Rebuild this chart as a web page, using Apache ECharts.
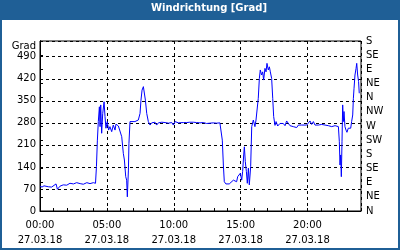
<!DOCTYPE html>
<html>
<head>
<meta charset="utf-8">
<script src="https://cdn.jsdelivr.net/npm/echarts@6/dist/echarts.min.js"></script>
<style>html,body{margin:0;padding:0;background:#fff}#c{width:400px;height:250px}</style>
</head>
<body>
<div id="c"></div>
<script>
// Time of day in hours (27.03.18)
const hours = [
  0.00,0.15,0.30,0.43,0.62,0.87,1.00,1.20,1.30,1.37,1.50,1.74,2.00,2.24,2.50,2.74,3.00,3.24,3.50,3.74,3.99,4.10,4.15,
  4.22,4.29,4.36,4.44,4.49,4.54,4.61,4.69,4.79,4.86,4.93,5.03,5.13,5.23,5.36,5.48,5.61,5.68,5.86,5.98,
  6.11,6.23,6.31,6.41,6.48,6.53,6.61,6.65,6.73,6.85,7.10,7.35,7.48,7.55,7.63,7.73,7.80,7.88,7.98,8.10,8.23,
  8.35,8.47,8.60,8.72,8.85,8.97,9.10,9.22,9.35,9.47,9.60,9.72,9.85,9.97,10.10,10.22,10.35,10.47,10.72,10.97,
  11.20,11.46,11.70,11.96,12.20,12.46,12.71,12.95,13.20,13.45,13.53,
  13.63,13.71,13.78,13.90,14.00,14.15,14.28,14.46,14.60,14.70,14.78,14.88,14.98,15.08,15.15,15.23,15.28,15.35,
  15.43,15.50,15.58,15.65,15.75,15.83,15.95,16.07,16.15,16.25,16.32,16.40,16.47,16.57,16.65,16.72,16.82,16.90,
  16.97,17.07,17.15,17.22,17.32,17.40,17.47,17.57,17.65,17.77,17.94,18.07,18.19,18.32,18.44,18.57,18.69,18.82,
  18.94,19.07,19.19,19.32,19.44,19.56,19.69,19.94,20.06,20.19,20.31,20.44,20.56,20.69,20.81,21.06,21.31,21.56,
  21.81,22.06,22.18,22.31,22.38,22.43,22.48,22.53,22.58,22.63,22.68,22.73,22.80,22.88,22.95,23.05,23.13,23.23,
  23.30,23.38,23.43,23.48,23.55,23.63,23.68,23.75,23.82,23.87
];
// Wind direction in degrees
const direction = [
  79,76,80,82,77,76,72,86,69,63,79,83,82,88,86,90,87,85,90,87,90,86,88,
  141,225,284,331,268,337,247,310,347,300,263,284,257,268,252,273,257,276,270,268,
  236,183,162,109,98,45,130,215,284,284,284,289,310,352,384,395,395,352,310,284,273,
  280,278,282,273,280,276,282,278,281,282,279,278,281,273,284,278,280,280,281,281,
  282,282,281,280,281,278,279,280,279,280,278,
  225,146,93,86,83,86,90,98,95,93,109,104,120,98,125,178,204,157,
  125,88,136,83,141,268,289,268,289,284,358,421,448,432,442,416,453,442,
  469,448,458,442,421,358,300,272,284,270,278,273,278,271,286,278,271,275,
  268,273,265,273,268,273,271,273,278,286,275,284,273,278,273,275,273,271,
  268,271,265,268,220,146,178,109,220,337,284,316,268,257,250,263,268,263,
  284,305,358,390,432,453,469,432,411,374
];
const xLabelHours = [0,5,10,15,20];
const dateLabel = '27.03.18';
const compassLabels = ['N','NE','E','SE','S','SW','W','NW','N','NE','E','SE','S'];

const chart = echarts.init(document.getElementById('c'), null, {renderer:'canvas'});
const font = 'DejaVu Sans';
const pad = n => (n < 10 ? '0' : '') + n;
const dash = {color:'#000', width:1, type:[3,3]};
chart.setOption({
  animation:false,
  backgroundColor:'#1f5f96',
  graphic:[{type:'rect', z:-10, shape:{x:2,y:20,width:396,height:228}, style:{fill:'#fff'}}],
  title:{
    text:'Windrichtung [Grad]', left:151, top:3, padding:0,
    textStyle:{color:'#fff', fontFamily:'DejaVu Sans', fontWeight:'bold', fontSize:10}
  },
  grid:{left:40, right:39, top:41, bottom:39, show:true, borderColor:'#000', borderWidth:1, backgroundColor:'transparent'},
  xAxis:[{
    type:'value', min:0, max:24, interval:1,
    axisLine:{lineStyle:{color:'#000'}},
    axisTick:{show:true, inside:true, length:3, lineStyle:{color:'#000'}},
    splitLine:{show:false},
    axisLabel:{
      color:'#000', fontFamily:font, fontSize:10, lineHeight:15, margin:7,
      formatter:v => xLabelHours.indexOf(v) >= 0 ? pad(v) + ':00\n' + dateLabel : ''
    }
  },{
    type:'value', min:0, max:24, interval:5, position:'top',
    axisLine:{show:false}, axisTick:{show:false}, axisLabel:{show:false},
    splitLine:{show:true, lineStyle:dash}
  }],
  yAxis:[{
    type:'value', min:0, max:540, interval:70, position:'left',
    name:'Grad', nameLocation:'end', nameGap:-6,
    nameTextStyle:{color:'#000', fontFamily:font, fontSize:10, align:'right', verticalAlign:'middle', padding:[0,4,0,0]},
    axisLine:{show:true, lineStyle:{color:'#000'}},
    axisTick:{show:false},
    splitLine:{show:true, lineStyle:dash},
    axisLabel:{color:'#000', fontFamily:font, fontSize:10, margin:4, formatter:v => v % 70 === 0 ? String(v) : ''}
  },{
    type:'value', min:0, max:540, interval:45, position:'right',
    axisLine:{show:true, lineStyle:{color:'#000'}},
    axisTick:{show:true, length:3, lineStyle:{color:'#000'}},
    splitLine:{show:false},
    axisLabel:{color:'#000', fontFamily:font, fontSize:10, margin:5, formatter:v => compassLabels[Math.round(v/45)] || ''}
  }],
  series:[{
    type:'line', xAxisIndex:0, yAxisIndex:0, showSymbol:false,
    lineStyle:{color:'#0000ff', width:1},
    data:hours.map((h,i) => [h, direction[i]])
  }]
});
</script>
</body>
</html>
